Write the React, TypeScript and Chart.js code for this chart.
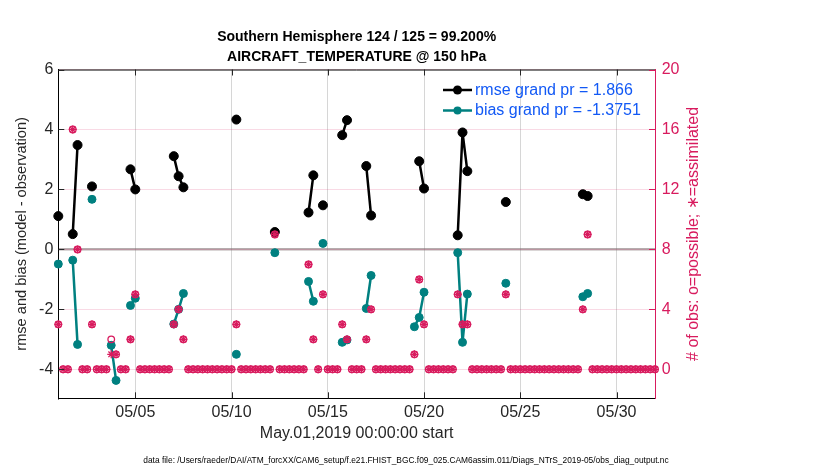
import { useEffect, useRef } from 'react';
import { Chart, registerables } from 'chart.js';

Chart.register(...registerables);

const titleLines = ['Southern Hemisphere 124 / 125 = 99.200%', 'AIRCRAFT_TEMPERATURE @ 150 hPa'];
const xAxisTitle = 'May.01,2019 00:00:00 start';
const yLeftTitle = 'rmse and bias (model - observation)';
const yRightTitle = '# of obs: o=possible; \u2217=assimilated';
const footerText =
  'data file: /Users/raeder/DAI/ATM_forcXX/CAM6_setup/f.e21.FHIST_BGC.f09_025.CAM6assim.011/Diags_NTrS_2019-05/obs_diag_output.nc';
const legendLabels = ['rmse grand pr = 1.866', 'bias grand pr = -1.3751'];

const xTickLabels = ['05/05', '05/10', '05/15', '05/20', '05/25', '05/30'];
const yTicksLeft = [-4, -2, 0, 2, 4, 6];
const yTicksRight = [0, 4, 8, 12, 16, 20];

// 6-hourly bins from May 1 2019 00Z to June 1 2019 00Z
const binStartUTC = Date.UTC(2019, 4, 1, 0, 0, 0);
const binStepHours = 6;
const binCount = 125;

const n = null;
const rmse = [
  1.11, n, n, 0.51, 3.48, n, n, 2.1, n, n,
  n, n, n, n, n, 2.67, 2.0, n, n, n,
  n, n, n, n, 3.11, 2.44, 2.07, n, n, n,
  n, n, n, n, n, n, n, 4.33, n, n,
  n, n, n, n, n, 0.58, n, n, n, n,
  n, n, 1.23, 2.47, n, 1.47, n, n, n, 3.81,
  4.31, n, n, n, 2.78, 1.13, n, n, n, n,
  n, n, n, n, n, 2.94, 2.03, n, n, n,
  n, n, n, 0.47, 3.9, 2.61, n, n, n, n,
  n, n, n, 1.58, n, n, n, n, n, n,
  n, n, n, n, n, n, n, n, n, 1.84,
  1.78, n, n, n, n, n, n, n, n, n,
  n, n, n, n, n,
];
const bias = [
  -0.49, n, n, -0.36, -3.17, n, n, 1.67, n, n,
  n, -3.2, -4.37, n, n, -1.87, -1.63, n, n, n,
  n, n, n, n, -2.49, -2.0, -1.47, n, n, n,
  n, n, n, n, n, n, n, -3.5, n, n,
  n, n, n, n, n, -0.11, n, n, n, n,
  n, n, -1.07, -1.73, n, 0.2, n, n, n, -3.1,
  -3.02, n, n, n, -1.97, -0.87, n, n, n, n,
  n, n, n, n, -2.58, -2.27, -1.43, n, n, n,
  n, n, n, -0.11, -3.1, -1.49, n, n, n, n,
  n, n, n, -1.13, n, n, n, n, n, n,
  n, n, n, n, n, n, n, n, n, -1.58,
  -1.47, n, n, n, n, n, n, n, n, n,
  n, n, n, n, n,
];
const obsPossible = [
  3, 0, 0, 16, 8, 0, 0, 3, 0, 0,
  0, 2, 1, 0, 0, 2, 5, 0, 0, 0,
  0, 0, 0, 0, 3, 4, 2, 0, 0, 0,
  0, 0, 0, 0, 0, 0, 0, 3, 0, 0,
  0, 0, 0, 0, 0, 9, 0, 0, 0, 0,
  0, 0, 7, 2, 0, 5, 0, 0, 0, 3,
  2, 0, 0, 0, 2, 4, 0, 0, 0, 0,
  0, 0, 0, 0, 1, 6, 3, 0, 0, 0,
  0, 0, 0, 5, 3, 3, 0, 0, 0, 0,
  0, 0, 0, 5, 0, 0, 0, 0, 0, 0,
  0, 0, 0, 0, 0, 0, 0, 0, 0, 4,
  9, 0, 0, 0, 0, 0, 0, 0, 0, 0,
  0, 0, 0, 0, 0,
];
const obsAssimilated = [
  3, 0, 0, 16, 8, 0, 0, 3, 0, 0,
  0, 1, 1, 0, 0, 2, 5, 0, 0, 0,
  0, 0, 0, 0, 3, 4, 2, 0, 0, 0,
  0, 0, 0, 0, 0, 0, 0, 3, 0, 0,
  0, 0, 0, 0, 0, 9, 0, 0, 0, 0,
  0, 0, 7, 2, 0, 5, 0, 0, 0, 3,
  2, 0, 0, 0, 2, 4, 0, 0, 0, 0,
  0, 0, 0, 0, 1, 6, 3, 0, 0, 0,
  0, 0, 0, 5, 3, 3, 0, 0, 0, 0,
  0, 0, 0, 5, 0, 0, 0, 0, 0, 0,
  0, 0, 0, 0, 0, 0, 0, 0, 0, 4,
  9, 0, 0, 0, 0, 0, 0, 0, 0, 0,
  0, 0, 0, 0, 0,
];

const PINK = '#d81b5e';
const TEAL = '#008080';
const BLUE = '#1259f5';
const TXT = '#262626';
const FONT = "'Liberation Sans', Arial, Helvetica, sans-serif";

const pad2 = (v: number) => (v < 10 ? '0' + v : '' + v);
const binLabels: string[] = [];
for (let i = 0; i < binCount; i++) {
  const d = new Date(binStartUTC + i * binStepHours * 3600 * 1000);
  binLabels.push(
    pad2(d.getUTCMonth() + 1) + '/' + pad2(d.getUTCDate()) + ' ' + pad2(d.getUTCHours()) + ':00'
  );
}
const tickLabelAt = (i: number): string => {
  const lab = binLabels[i];
  if (!lab || !lab.endsWith(' 00:00')) return '';
  const day = lab.slice(0, 5);
  return xTickLabels.includes(day) ? day : '';
};

const decorPlugin = {
  id: 'decor',
  afterDraw(chart: any) {
    const { ctx, chartArea: a, scales } = chart;
    ctx.save();
    // top frame line
    ctx.strokeStyle = '#000';
    ctx.lineWidth = 1;
    ctx.beginPath();
    ctx.moveTo(a.left, a.top + 0.5);
    ctx.lineTo(a.right, a.top + 0.5);
    ctx.stroke();
    // inner tick marks x
    ctx.strokeStyle = TXT;
    for (let i = 0; i < binCount; i++) {
      if (!tickLabelAt(i)) continue;
      const px = Math.round(scales.x.getPixelForValue(i)) + 0.5;
      ctx.beginPath();
      ctx.moveTo(px, a.bottom);
      ctx.lineTo(px, a.bottom - 6);
      ctx.moveTo(px, a.top);
      ctx.lineTo(px, a.top + 6);
      ctx.stroke();
    }
    // left ticks
    yTicksLeft.forEach((v) => {
      const py = Math.round(scales.y.getPixelForValue(v)) + 0.5;
      ctx.beginPath();
      ctx.moveTo(a.left, py);
      ctx.lineTo(a.left + 6, py);
      ctx.stroke();
    });
    // right ticks
    ctx.strokeStyle = PINK;
    yTicksRight.forEach((v) => {
      const py = Math.round(scales.y2.getPixelForValue(v)) + 0.5;
      ctx.beginPath();
      ctx.moveTo(a.right, py);
      ctx.lineTo(a.right - 6, py);
      ctx.stroke();
    });
    // legend
    const legendColors = ['#000', TEAL];
    const ly = [90, 110.5];
    legendLabels.forEach((lab, i) => {
      ctx.strokeStyle = legendColors[i];
      ctx.fillStyle = legendColors[i];
      ctx.lineWidth = 2.5;
      ctx.beginPath();
      ctx.moveTo(443, ly[i]);
      ctx.lineTo(472, ly[i]);
      ctx.stroke();
      ctx.beginPath();
      ctx.arc(457.5, ly[i], i === 0 ? 4.5 : 4, 0, Math.PI * 2);
      ctx.fill();
      ctx.fillStyle = BLUE;
      ctx.font = `16px ${FONT}`;
      ctx.textAlign = 'left';
      ctx.textBaseline = 'middle';
      ctx.fillText(lab, 475, ly[i] + 0.5);
    });
    // right axis title
    ctx.save();
    ctx.translate(694, (a.top + a.bottom) / 2);
    ctx.rotate(-Math.PI / 2);
    ctx.fillStyle = PINK;
    ctx.font = `16px ${FONT}`;
    ctx.textAlign = 'center';
    ctx.textBaseline = 'middle';
    ctx.fillText(yRightTitle, 0, 0);
    ctx.restore();
    // footer
    ctx.fillStyle = '#000';
    ctx.font = `8.4px ${FONT}`;
    ctx.textAlign = 'center';
    ctx.textBaseline = 'middle';
    ctx.fillText(footerText, 406, 461);
    ctx.restore();
  },
};

export default function App() {
  const ref = useRef<HTMLCanvasElement | null>(null);
  useEffect(() => {
    if (!ref.current) return;
    const chart = new Chart(ref.current, {
      type: 'line',
      data: {
        labels: binLabels,
        datasets: [
          {
            label: 'assimilated',
            data: obsAssimilated,
            yAxisID: 'y2',
            showLine: false,
            pointStyle: 'star',
            pointRadius: 4,
            pointBorderWidth: 1.3,
            pointBorderColor: PINK,
            pointBackgroundColor: PINK,
            borderColor: PINK,
            order: 0,
          },
          {
            label: 'possible',
            data: obsPossible,
            yAxisID: 'y2',
            showLine: false,
            pointStyle: 'circle',
            pointRadius: 3.3,
            pointBorderWidth: 1.3,
            pointBorderColor: PINK,
            pointBackgroundColor: 'rgba(0,0,0,0)',
            borderColor: PINK,
            order: 1,
          },
          {
            label: 'bias',
            data: bias,
            yAxisID: 'y',
            borderColor: TEAL,
            borderWidth: 2.5,
            pointRadius: 4,
            pointBackgroundColor: TEAL,
            pointBorderColor: TEAL,
            pointBorderWidth: 1,
            spanGaps: false,
            order: 2,
          },
          {
            label: 'rmse',
            data: rmse,
            yAxisID: 'y',
            borderColor: '#000',
            borderWidth: 2.5,
            pointRadius: 4.5,
            pointBackgroundColor: '#000',
            pointBorderColor: '#000',
            pointBorderWidth: 1,
            spanGaps: false,
            order: 3,
          },
        ],
      },
      options: {
        animation: false,
        responsive: false,
        events: [],
        layout: { padding: 0 },
        plugins: {
          legend: { display: false },
          tooltip: { enabled: false },
          title: {
            display: true,
            text: titleLines,
            fullSize: false,
            color: '#000',
            font: { family: FONT, size: 14, weight: 'bold', lineHeight: 20 / 14 },
            padding: { top: 27.5, bottom: 2 },
          },
        },
        scales: {
          x: {
            type: 'category',
            offset: false,
            grid: {
              color: (c: any) => (tickLabelAt(c.index) ? 'rgba(0,0,0,0.16)' : 'rgba(0,0,0,0)'),
              drawTicks: false,
              lineWidth: 1,
            },
            border: { color: '#000', width: 1 },
            ticks: {
              autoSkip: false,
              maxRotation: 0,
              minRotation: 0,
              padding: 5,
              color: TXT,
              font: { family: FONT, size: 16 },
              callback: (_v: any, i: number) => tickLabelAt(i),
            },
            title: {
              display: true,
              text: xAxisTitle,
              color: TXT,
              font: { family: FONT, size: 16 },
              padding: { top: 0, bottom: 26.4 },
            },
            afterFit: (s: any) => {
              s.height = 71.7;
            },
          },
          y: {
            position: 'left',
            min: -4.967,
            max: 6,
            afterBuildTicks: (s: any) => {
              s.ticks = yTicksLeft.map((v) => ({ value: v }));
            },
            grid: {
              color: (c: any) =>
                c.tick && c.tick.value === 0 ? 'rgba(120,105,108,0.55)' : 'rgba(0,0,0,0)',
              lineWidth: 2.5,
              drawTicks: false,
            },
            border: { color: '#000', width: 1 },
            ticks: { padding: 5, color: TXT, font: { family: FONT, size: 16 } },
            title: {
              display: true,
              text: yLeftTitle,
              color: TXT,
              font: { family: FONT, size: 14.6 },
              padding: { top: 13, bottom: 0 },
            },
            afterFit: (s: any) => {
              s.width = 58.3;
            },
          },
          y2: {
            position: 'right',
            min: -1.933,
            max: 20,
            afterBuildTicks: (s: any) => {
              s.ticks = yTicksRight.map((v) => ({ value: v }));
            },
            grid: { color: 'rgba(216,27,94,0.16)', lineWidth: 1, drawTicks: false },
            border: { color: PINK, width: 1 },
            ticks: { padding: 6.7, color: PINK, font: { family: FONT, size: 16 } },
            afterFit: (s: any) => {
              s.width = 175;
            },
          },
        },
      },
      plugins: [decorPlugin],
    } as any);
    return () => chart.destroy();
  }, []);
  return (
    <div style={{ position: 'absolute', left: 0, top: 0, width: 830, height: 470, background: '#fff' }}>
      <canvas ref={ref} width={830} height={470} style={{ display: 'block' }} />
    </div>
  );
}
